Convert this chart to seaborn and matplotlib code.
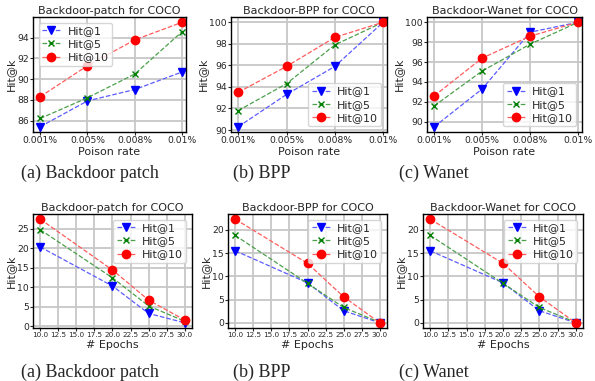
import numpy as np
import pandas as pd
import matplotlib
matplotlib.use("Agg")
import matplotlib.pyplot as plt
import seaborn as sns

# ------------------------------------------------------------
# Data
# ------------------------------------------------------------
poison_rates = ["0.001%", "0.005%", "0.008%", "0.01%"]
epochs = [10, 20, 25, 30]
series_names = ["Hit@1", "Hit@5", "Hit@10"]

# top row: Hit@k vs poison rate
patch_rate_h1 = [85.4, 87.9, 89.0, 90.7]
patch_rate_h5 = [86.2, 88.2, 90.5, 94.6]
patch_rate_h10 = [88.3, 91.3, 93.8, 95.5]

bpp_rate_h1 = [90.3, 93.3, 95.9, 100.0]
bpp_rate_h5 = [91.8, 94.3, 97.9, 100.0]
bpp_rate_h10 = [93.5, 95.9, 98.6, 100.0]

wanet_rate_h1 = [89.5, 93.3, 99.0, 100.0]
wanet_rate_h5 = [91.6, 95.1, 97.8, 100.0]
wanet_rate_h10 = [92.6, 96.4, 98.6, 100.0]

# bottom row: Hit@k vs epochs
patch_ep_h1 = [20.3, 10.3, 3.3, 0.9]
patch_ep_h5 = [24.7, 12.4, 5.2, 1.3]
patch_ep_h10 = [27.4, 14.4, 6.7, 1.6]

bpp_ep_h1 = [15.5, 8.6, 2.6, 0.0]
bpp_ep_h5 = [18.8, 8.5, 3.3, 0.1]
bpp_ep_h10 = [22.3, 12.8, 5.6, 0.0]

wanet_ep_h1 = [15.5, 8.6, 2.6, 0.0]
wanet_ep_h5 = [18.8, 8.5, 3.3, 0.1]
wanet_ep_h10 = [22.3, 12.8, 5.6, 0.0]

titles = ["Backdoor-patch for COCO", "Backdoor-BPP for COCO", "Backdoor-Wanet for COCO"]
captions = ["(a) Backdoor patch", "(b) BPP", "(c) Wanet"]
top_yticks = [[86, 88, 90, 92, 94], [90, 92, 94, 96, 98, 100], [90, 92, 94, 96, 98, 100]]

colors = {"Hit@1": "blue", "Hit@5": "green", "Hit@10": "red"}
line_colors = {"Hit@1": "#5c5cff", "Hit@5": "#4ca04c", "Hit@10": "#ff5c5c"}
markers = {"Hit@1": "v", "Hit@5": "x", "Hit@10": "o"}
marker_sizes = {"Hit@1": 6, "Hit@5": 5, "Hit@10": 6}

sns.set_style("ticks")
plt.rcParams["font.family"] = ["DejaVu Sans"]

fig = plt.figure(figsize=(5.95, 3.81), dpi=100)
W, H = 595.0, 381.0


def add_ax(x0, x1, y0, y1):
    return fig.add_axes([x0 / W, 1 - y1 / H, (x1 - x0) / W, (y1 - y0) / H])


def draw(ax, x, values, title, xlabel, legend_loc):
    for name, vals in zip(series_names, values):
        df = pd.DataFrame({"x": x, "y": vals})
        sns.lineplot(data=df, x="x", y="y", ax=ax, color=line_colors[name],
                     linestyle="--", linewidth=0.9, label=name,
                     marker=markers[name], markersize=marker_sizes[name],
                     markerfacecolor=colors[name],
                     markeredgecolor=colors[name], markeredgewidth=1.0)
    ax.grid(True, color="0.78", linewidth=1.3)
    ax.set_axisbelow(True)
    ax.set_title(title, fontsize=8, pad=2)
    ax.set_xlabel(xlabel, fontsize=8, labelpad=1)
    ax.set_ylabel("Hit@k", fontsize=8, labelpad=1)
    ax.tick_params(labelsize=6.7, length=2, pad=1)
    for sp in ax.spines.values():
        sp.set_color("black")
        sp.set_linewidth(1.0)
    leg = ax.legend(loc=legend_loc, fontsize=8, frameon=True, fancybox=True,
                    handlelength=1.7, borderpad=0.3, labelspacing=0.3,
                    handletextpad=0.6)
    leg.get_frame().set_edgecolor("0.8")


top_pos = [(33, 186), (231, 387), (427, 582)]
bot_pos = [(33, 192), (228, 387), (423, 583)]

top_data = [
    [patch_rate_h1, patch_rate_h5, patch_rate_h10],
    [bpp_rate_h1, bpp_rate_h5, bpp_rate_h10],
    [wanet_rate_h1, wanet_rate_h5, wanet_rate_h10],
]
bot_data = [
    [patch_ep_h1, patch_ep_h5, patch_ep_h10],
    [bpp_ep_h1, bpp_ep_h5, bpp_ep_h10],
    [wanet_ep_h1, wanet_ep_h5, wanet_ep_h10],
]
top_legend = ["upper left", "lower right", "lower right"]

rate_idx = np.arange(len(poison_rates))
for i in range(3):
    ax = add_ax(top_pos[i][0], top_pos[i][1], 17, 132)
    draw(ax, rate_idx, top_data[i], titles[i], "Poison rate", top_legend[i])
    ax.set_xticks(rate_idx)
    ax.set_xticklabels(poison_rates)
    ax.set_xlim(-0.15, 3.08)
    ax.set_yticks(top_yticks[i])

    ax = add_ax(bot_pos[i][0], bot_pos[i][1], 214, 328)
    draw(ax, epochs, bot_data[i], titles[i], "# Epochs", "upper right")
    ax.set_xticks(np.arange(10, 30.1, 2.5))
    ax.tick_params(axis="x", labelsize=5.2)

cap_x = [90, 262, 434]
for i in range(3):
    fig.text(cap_x[i] / W, 1 - 173 / H, captions[i], ha="center", va="center",
             fontsize=13, family="Liberation Serif")
    fig.text(cap_x[i] / W, 1 - 372 / H, captions[i], ha="center", va="center",
             fontsize=13, family="Liberation Serif")

fig.savefig("out.png", dpi=100)
